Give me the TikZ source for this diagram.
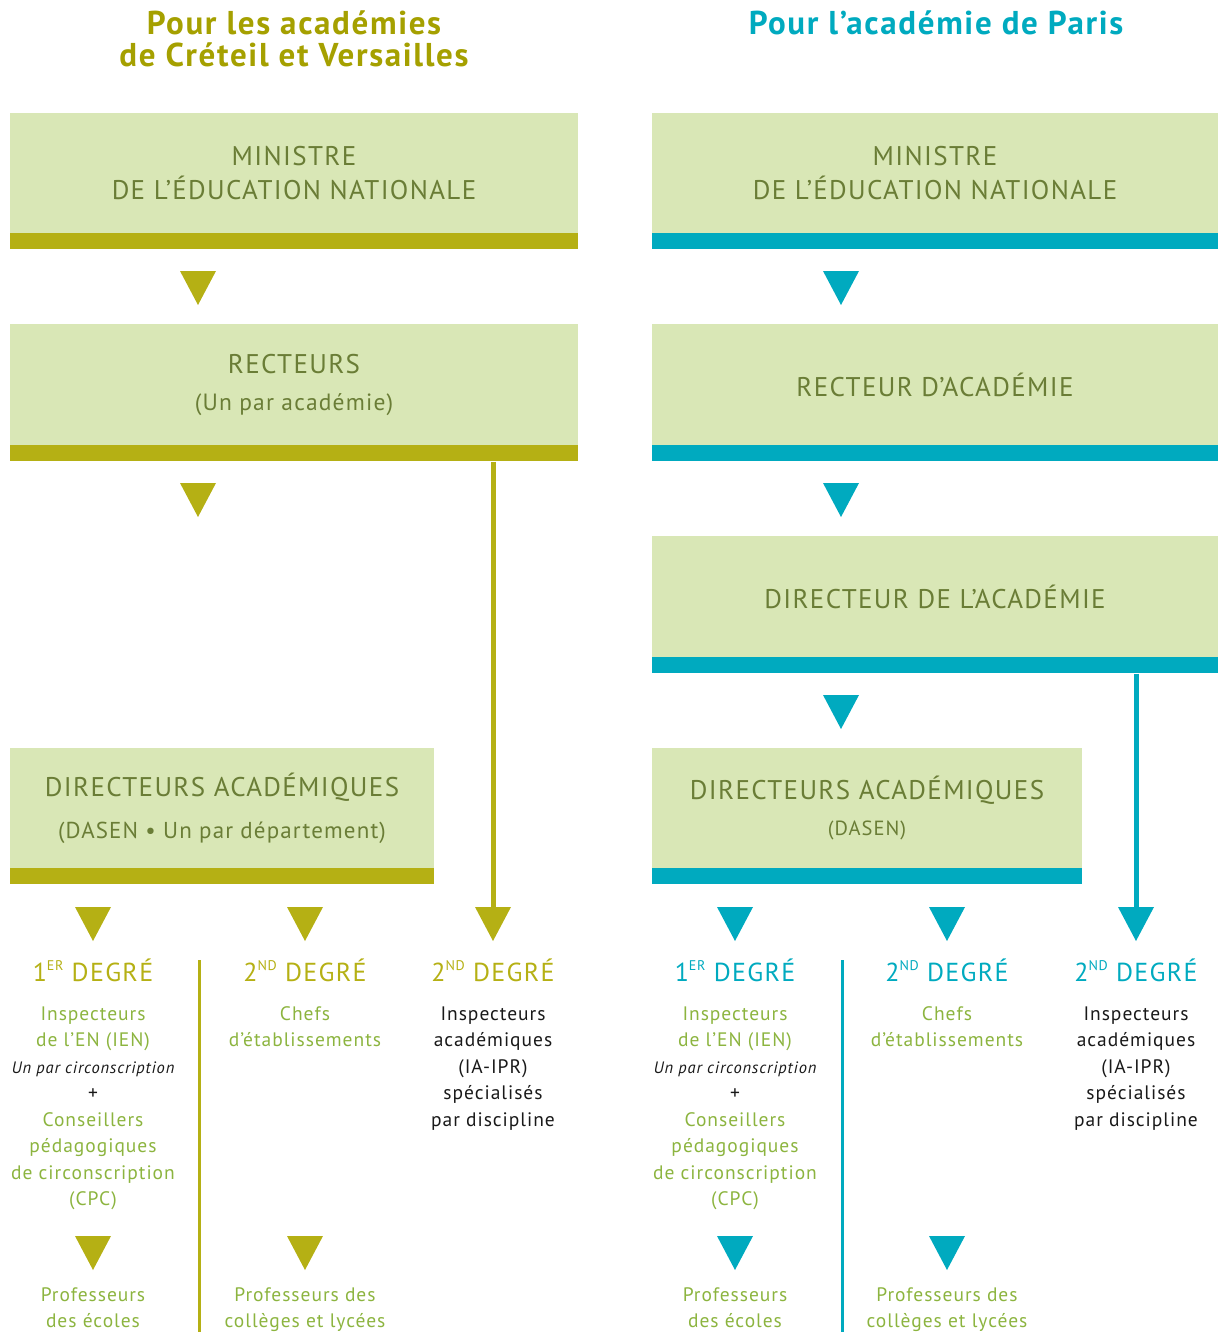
\documentclass[tikz,border=0pt]{standalone}
\usepackage{fontspec}
\setmainfont{PT Sans}[LetterSpace=5]
\definecolor{olivebar}{RGB}{181,176,20}
\definecolor{olivetitle}{RGB}{165,160,0}
\definecolor{cyanbar}{RGB}{0,170,191}
\definecolor{boxfill}{RGB}{217,231,182}
\definecolor{boxtext}{RGB}{106,125,54}
\definecolor{lgreen}{RGB}{140,180,63}
\definecolor{blk}{RGB}{25,25,25}
\begin{document}
\begin{tikzpicture}[x=1pt,y=-1pt,
  box/.style={fill=boxfill, inner sep=0pt, align=center, text=boxtext,
    font=\fontsize{27}{34}\selectfont},
  bar/.style={inner sep=0pt, minimum height=16pt},
  title/.style={align=center, font=\fontsize{33}{32}\selectfont\bfseries},
  degree/.style={font=\fontsize{26}{30}\selectfont},
  body/.style={align=center, font=\fontsize{19.5}{26.5}\selectfont, text=lgreen},
  tridown/.pic={\fill (-18,0) -- (18,0) -- (0,34) -- cycle;},
]
\useasboundingbox (0,0) rectangle (1218,1332);
\newcommand\subsm[1]{\smash{\raisebox{0.42em}{\fontsize{14}{14}\selectfont #1}}}

% ===== titles =====
\node[title, text=olivetitle] (Ltitle) at (294,39) {Pour les académies\\de Créteil et Versailles};
\node[title, text=cyanbar] (Rtitle) at (936,23) {Pour l’académie de Paris};

% ===== left column =====
\node[box, minimum width=568pt, minimum height=120pt] (Lmin) at (294,173)
  {MINISTRE\\DE L’ÉDUCATION NATIONALE};
\node[bar, fill=olivebar, minimum width=568pt, anchor=north] (Lminbar) at (Lmin.south) {};
\pic[fill=olivebar] at (198,271) {tridown};
\node[box, minimum width=568pt, minimum height=121pt] (Lrec) at (294,384.5)
  {RECTEURS\\[3pt]{\fontsize{23.5}{30}\selectfont (Un par académie)}};
\node[bar, fill=olivebar, minimum width=568pt, anchor=north] (Lrecbar) at (Lrec.south) {};
\pic[fill=olivebar] at (198,483) {tridown};
\node[box, minimum width=424pt, minimum height=120pt] (Ldir) at (222,808)
  {DIRECTEURS ACADÉMIQUES\\[8pt]{\fontsize{23}{30}\selectfont (DASEN • Un par département)}};
\node[bar, fill=olivebar, minimum width=424pt, anchor=north] (Ldirbar) at (Ldir.south) {};

\coordinate (Lt3) at (493,907);
\draw[olivebar, line width=5pt] (Lrecbar.south -| Lt3) -- (Lt3);
\pic[fill=olivebar] at (93,907) {tridown};
\pic[fill=olivebar] at (305,907) {tridown};
\pic[fill=olivebar] at (Lt3) {tridown};

\node[degree, text=olivebar] (Ld1) at (93,970) {1\subsm{ER} DEGRÉ};
\node[degree, text=olivebar] (Ld2) at (305,970) {2\subsm{ND} DEGRÉ};
\node[degree, text=olivebar] (Ld3) at (493,970) {2\subsm{ND} DEGRÉ};

\coordinate (Ldivtop) at (199,960);
\coordinate (Ldivbot) at (199,1332);
\draw[olivebar, line width=3pt] (Ldivtop) -- (Ldivbot);

\node[body, anchor=north] (Lien) at (93,1003)
  {Inspecteurs\\de l’EN (IEN)\\{\color{blk}\fontsize{16.5}{26.5}\selectfont\itshape Un par circonscription}\\{\color{blk}+}\\Conseillers\\pédagogiques\\de circonscription\\(CPC)};
\node[body, anchor=north] (Lchefs) at (305,1003) {Chefs\\d’établissements};
\node[body, anchor=north, text=blk] (Lipr) at (493,1003)
  {Inspecteurs\\académiques\\(IA-IPR)\\spécialisés\\par discipline};

\pic[fill=olivebar] at (93,1236) {tridown};
\pic[fill=olivebar] at (305,1236) {tridown};
\node[body, anchor=north] (Lprof1) at (93,1284) {Professeurs\\des écoles};
\node[body, anchor=north] (Lprof2) at (305,1284) {Professeurs des\\collèges et lycées};

% ===== right column =====
\node[box, minimum width=566pt, minimum height=120pt] (Rmin) at (935,173)
  {MINISTRE\\DE L’ÉDUCATION NATIONALE};
\node[bar, fill=cyanbar, minimum width=566pt, anchor=north] (Rminbar) at (Rmin.south) {};
\pic[fill=cyanbar] at (841,271) {tridown};
\node[box, minimum width=566pt, minimum height=121pt] (Rrec) at (935,384.5)
  {RECTEUR D’ACADÉMIE};
\node[bar, fill=cyanbar, minimum width=566pt, anchor=north] (Rrecbar) at (Rrec.south) {};
\pic[fill=cyanbar] at (841,483) {tridown};
\node[box, minimum width=566pt, minimum height=121pt] (Racad) at (935,596.5)
  {DIRECTEUR DE L’ACADÉMIE};
\node[bar, fill=cyanbar, minimum width=566pt, anchor=north] (Racadbar) at (Racad.south) {};
\pic[fill=cyanbar] at (841,695) {tridown};
\node[box, minimum width=430pt, minimum height=120pt] (Rdir) at (867,808)
  {DIRECTEURS ACADÉMIQUES\\[2pt]{\fontsize{20.5}{30}\selectfont (DASEN)}};
\node[bar, fill=cyanbar, minimum width=430pt, anchor=north] (Rdirbar) at (Rdir.south) {};

\coordinate (Rt3) at (1136,907);
\draw[cyanbar, line width=5pt] (Racadbar.south -| Rt3) -- (Rt3);
\pic[fill=cyanbar] at (735,907) {tridown};
\pic[fill=cyanbar] at (947,907) {tridown};
\pic[fill=cyanbar] at (Rt3) {tridown};

\node[degree, text=cyanbar] (Rd1) at (735,970) {1\subsm{ER} DEGRÉ};
\node[degree, text=cyanbar] (Rd2) at (947,970) {2\subsm{ND} DEGRÉ};
\node[degree, text=cyanbar] (Rd3) at (1136,970) {2\subsm{ND} DEGRÉ};

\coordinate (Rdivtop) at (842,960);
\coordinate (Rdivbot) at (842,1332);
\draw[cyanbar, line width=3pt] (Rdivtop) -- (Rdivbot);

\node[body, anchor=north] (Rien) at (735,1003)
  {Inspecteurs\\de l’EN (IEN)\\{\color{blk}\fontsize{16.5}{26.5}\selectfont\itshape Un par circonscription}\\{\color{blk}+}\\Conseillers\\pédagogiques\\de circonscription\\(CPC)};
\node[body, anchor=north] (Rchefs) at (947,1003) {Chefs\\d’établissements};
\node[body, anchor=north, text=blk] (Ripr) at (1136,1003)
  {Inspecteurs\\académiques\\(IA-IPR)\\spécialisés\\par discipline};

\pic[fill=cyanbar] at (735,1236) {tridown};
\pic[fill=cyanbar] at (947,1236) {tridown};
\node[body, anchor=north] (Rprof1) at (735,1284) {Professeurs\\des écoles};
\node[body, anchor=north] (Rprof2) at (947,1284) {Professeurs des\\collèges et lycées};
\end{tikzpicture}
\end{document}
